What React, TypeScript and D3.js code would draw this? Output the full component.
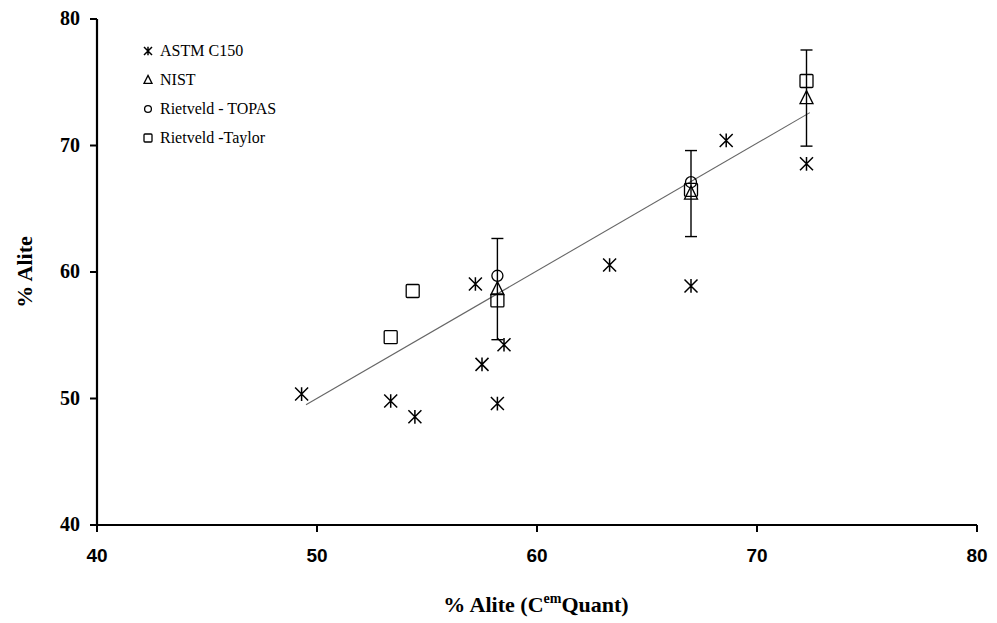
import React from 'react';
import { scaleLinear, line } from 'd3';

// ASTM C150 (Bogue) values
const astmX = [49.3, 53.35, 54.45, 57.2, 57.5, 58.5, 58.2, 63.3, 67.0, 68.6, 72.25];
const astmY = [50.35, 49.8, 48.55, 59.05, 52.7, 54.25, 49.6, 60.55, 58.9, 70.4, 68.55];

// NIST certified values with error bars
const nistX = [58.2, 67.0, 72.25];
const nistY = [58.65, 66.2, 73.75];
const nistErr = [4.0, 3.4, 3.8];

// Rietveld - TOPAS
const topasX = [58.2, 67.0];
const topasY = [59.7, 67.1];

// Rietveld - Taylor
const taylorX = [53.35, 54.35, 58.2, 67.0, 72.25];
const taylorY = [54.85, 58.5, 57.75, 66.5, 75.1];

// fitted trend line ends
const trendX = [49.5, 72.4];
const trendY = [49.5, 72.6];

const xTicks = [40, 50, 60, 70, 80];
const yTicks = [40, 50, 60, 70, 80];
const legendLabels = ['ASTM C150', 'NIST', 'Rietveld - TOPAS', 'Rietveld -Taylor'];
const legendShapes = ['star', 'triangle', 'circle', 'square'];

const W = 997;
const H = 623;
const serif = '"Liberation Serif", "Times New Roman", serif';
const sans = '"Liberation Sans", Arial, sans-serif';

const x = scaleLinear().domain([40, 80]).range([97, 977]);
const y = scaleLinear().domain([40, 80]).range([525, 19]);

function Marker({ shape, cx, cy, r }: { shape: string; cx: number; cy: number; r: number }) {
  const common = { fill: 'none', stroke: '#000', strokeWidth: 1.3 };
  if (shape === 'star') {
    const v = r * 1.05;
    return (
      <path
        d={`M${cx - r},${cy - r}L${cx + r},${cy + r}M${cx - r},${cy + r}L${cx + r},${cy - r}M${cx},${cy - v}L${cx},${cy + v}`}
        {...common}
        strokeWidth={1.5}
      />
    );
  }
  if (shape === 'triangle') {
    return (
      <path
        d={`M${cx},${cy - r * 1.15}L${cx + r},${cy + r * 0.85}L${cx - r},${cy + r * 0.85}Z`}
        {...common}
      />
    );
  }
  if (shape === 'circle') return <circle cx={cx} cy={cy} r={r * 0.85} {...common} />;
  return <rect x={cx - r} y={cy - r} width={r * 2} height={r * 2} rx={1} {...common} />;
}

export default function App() {
  const trend = line<number>()
    .x((d) => x(d))
    .y((_, i) => y(trendY[i]));

  return (
    <svg
      width={W}
      height={H}
      style={{ position: 'absolute', left: 0, top: 0, background: '#fff' }}
    >
      {/* axes */}
      <line x1={x(40)} x2={x(80)} y1={y(40)} y2={y(40)} stroke="#000" strokeWidth={2} />
      <line x1={x(40)} x2={x(40)} y1={y(40)} y2={y(80)} stroke="#000" strokeWidth={2.2} />
      {xTicks.map((t) => (
        <g key={'x' + t}>
          <line x1={x(t)} x2={x(t)} y1={y(40)} y2={y(40) + 7} stroke="#000" strokeWidth={2} />
          <text
            x={x(t)}
            y={562}
            textAnchor="middle"
            fontFamily={sans}
            fontWeight="bold"
            fontSize={19}
          >
            {t}
          </text>
        </g>
      ))}
      {yTicks.map((t) => (
        <g key={'y' + t}>
          <line x1={x(40) - 7} x2={x(40)} y1={y(t)} y2={y(t)} stroke="#000" strokeWidth={2} />
          <text
            x={80}
            y={y(t) + 6}
            textAnchor="end"
            fontFamily={serif}
            fontWeight="bold"
            fontSize={20}
          >
            {t}
          </text>
        </g>
      ))}

      {/* axis titles */}
      <text
        transform={`translate(32,${(y(40) + y(80)) / 2}) rotate(-90)`}
        textAnchor="middle"
        fontFamily={serif}
        fontWeight="bold"
        fontSize={22}
      >
        % Alite
      </text>
      <text x={536} y={612} textAnchor="middle" fontFamily={serif} fontWeight="bold" fontSize={22}>
        % Alite (C
        <tspan fontSize={14} dy={-9}>em</tspan>
        <tspan dy={9}>Quant)</tspan>
      </text>

      {/* trend line */}
      <path d={trend(trendX) || ''} fill="none" stroke="#666" strokeWidth={1.1} />

      {/* NIST error bars */}
      {nistX.map((v, i) => (
        <g key={'e' + i} stroke="#000" strokeWidth={1.4}>
          <line x1={x(v)} x2={x(v)} y1={y(nistY[i] - nistErr[i])} y2={y(nistY[i] + nistErr[i])} />
          <line x1={x(v) - 6} x2={x(v) + 6} y1={y(nistY[i] + nistErr[i])} y2={y(nistY[i] + nistErr[i])} />
          <line x1={x(v) - 6} x2={x(v) + 6} y1={y(nistY[i] - nistErr[i])} y2={y(nistY[i] - nistErr[i])} />
        </g>
      ))}

      {/* markers */}
      {astmX.map((v, i) => (
        <Marker key={'a' + i} shape="star" cx={x(v)} cy={y(astmY[i])} r={6.5} />
      ))}
      {nistX.map((v, i) => (
        <Marker key={'n' + i} shape="triangle" cx={x(v)} cy={y(nistY[i])} r={6.5} />
      ))}
      {topasX.map((v, i) => (
        <Marker key={'t' + i} shape="circle" cx={x(v)} cy={y(topasY[i])} r={6.5} />
      ))}
      {taylorX.map((v, i) => (
        <Marker key={'r' + i} shape="square" cx={x(v)} cy={y(taylorY[i])} r={6.5} />
      ))}

      {/* legend */}
      {legendLabels.map((label, i) => (
        <g key={label}>
          <Marker shape={legendShapes[i]} cx={148} cy={51 + i * 29} r={4} />
          <text x={160} y={56 + i * 29} fontFamily={serif} fontSize={16}>
            {label}
          </text>
        </g>
      ))}
    </svg>
  );
}
